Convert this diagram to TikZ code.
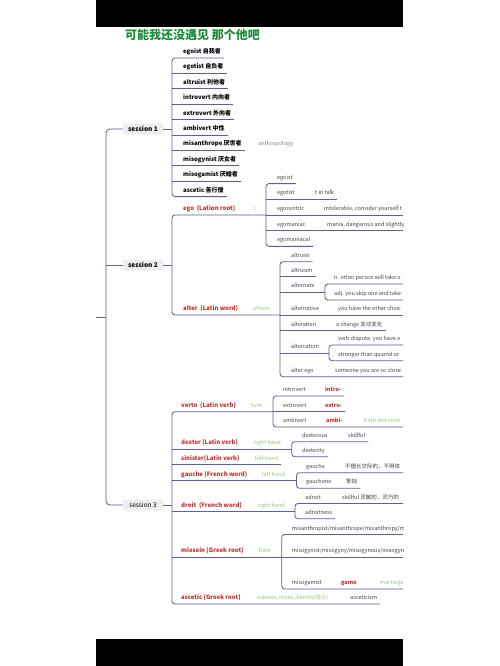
\documentclass[tikz,border=0pt]{standalone}
\usepackage{fontspec}
\setmainfont{Noto Sans CJK SC}
\usetikzlibrary{calc}
\definecolor{cLine}{HTML}{606095}
\definecolor{cRed}{HTML}{B83232}
\definecolor{cGreen}{HTML}{9CC27E}
\definecolor{cTitle}{HTML}{1E8B3A}
\definecolor{cDark}{HTML}{444444}
\definecolor{cBox}{HTML}{EEEEEE}
\newcommand{\TP}[5]{\node[#2] (#1) at (#3,#4-4.5) {#5};}
\newcommand{\ULine}[3]{\draw[ln] (#2,#3) -- ($(#1.east |- 0,#3)+(3,0)$);}
\newcommand{\ULto}[3]{\draw[ln] (#1,#3) -- (#2,#3);}
\newcommand{\BRk}[5]{\draw[ln,rounded corners=3pt] ($(#1.east |- 0,#3)+(3,0)$) -- (#2,#3) -- (#2,#4) -- ($(#5.east |- 0,#4)+(3,0)$);}
\begin{document}
\begin{tikzpicture}[x=1pt,y=-1pt,
 ln/.style={draw=cLine,line width=0.85pt},
 sonet/.style={anchor=base west,inner sep=0,font=\fontsize{6}{7}\selectfont\bfseries,text=black},
 redt/.style={anchor=base west,inner sep=0,font=\fontsize{6}{7}\selectfont\bfseries,text=cRed},
 grayt/.style={anchor=base west,inner sep=0,font=\fontsize{5.5}{6.5}\selectfont,text=cDark},
 greent/.style={anchor=base west,inner sep=0,font=\fontsize{5.5}{6.5}\selectfont,text=cGreen},
 lightt/.style={anchor=base west,inner sep=0,font=\fontsize{5.5}{6.5}\selectfont,text=gray},
 sredt/.style={anchor=base west,inner sep=0,font=\fontsize{5.5}{6.5}\selectfont\bfseries,text=cRed},
 sess/.style={fill=cBox,rounded corners=2pt,minimum width=40pt,minimum height=11pt,inner sep=1pt,font=\fontsize{6.5}{7}\selectfont}]
\fill[white] (0,0) rectangle (500,666);
\begin{scope}
\clip (0,27) rectangle (403,639);
\node[anchor=west,text=cTitle,font=\fontsize{12}{13}\selectfont\bfseries,inner sep=0] (title) at (125,35) {可能我还没遇见 那个他吧};
% sessions
\node[sess,font=\fontsize{6.5}{7}\selectfont\bfseries] (s1) at (143,129) {session 1};
\node[sess,font=\fontsize{6.5}{7}\selectfont\bfseries] (s2) at (143,265) {session 2};
\node[sess] (s3) at (143,505) {session 3};
\draw[ln,rounded corners=4pt] (s1.west) -- (106,129) -- (106,505) -- (s3.west);
\draw[ln] (96,317) -- (106,317);
\draw[ln] (106,265) -- (s2.west);
\draw[ln] (s1.east) -- (172,129);
\draw[ln] (s2.east) -- (172,265);
\draw[ln] (s3.east) -- (172,505);
% session 1 children
\TP{a1}{sonet}{183}{58}{egoist 自我者}
\TP{a2}{sonet}{183}{73.4}{egotist 自负者}
\TP{a3}{sonet}{183}{88.8}{altruist 利他者}
\TP{a4}{sonet}{183}{104.2}{introvert 内向者}
\TP{a5}{sonet}{183}{119.6}{extrovert 外向者}
\TP{a6}{sonet}{183}{135}{ambivert 中性}
\TP{a7}{sonet}{183}{150.4}{misanthrope 厌世者}
\TP{a8}{sonet}{183}{165.8}{misogynist 厌女者}
\TP{a9}{sonet}{183}{181.2}{misogamist 厌婚者}
\TP{a10}{sonet}{183}{196.6}{ascetic 苦行僧}
\TP{anth}{lightt}{258}{150.4}{anthropology}
\BRk{a1}{172}{58}{196.6}{a10}
\ULine{a2}{172}{73.4}
\ULine{a3}{172}{88.8}
\ULine{a4}{172}{104.2}
\ULine{a5}{172}{119.6}
\ULine{a6}{172}{135}
\ULine{a7}{172}{150.4}
\ULine{a8}{172}{165.8}
\ULine{a9}{172}{181.2}
% session 2 children
\TP{b1}{redt}{183}{215}{ego~ (Lation root)}
\TP{b2}{redt}{183}{315}{alter~ (Latin word)}
\TP{bl}{greent}{254}{215}{l}
\TP{bo}{greent}{253}{315}{others}
\draw[ln,rounded corners=3pt] (266,215) -- (172,215) -- (172,315) -- (280,315);
% ego children
\TP{c1}{grayt}{277}{183.6}{egoist}
\TP{c2}{grayt}{277}{199.3}{egotist}
\TP{c3}{grayt}{277}{215}{egocentric}
\TP{c4}{grayt}{277}{230.7}{egomaniac}
\TP{c5}{grayt}{277}{246.4}{egomaniacal}
\TP{c2a}{grayt}{315}{199.3}{t in talk}
\TP{c3a}{grayt}{324}{215}{intolerable, consider yourself t}
\TP{c4a}{grayt}{327}{230.7}{mania, dangerous and slightly}
\BRk{c1}{266}{183.6}{246.4}{c5}
\ULine{c2a}{266}{199.3}
\ULto{266}{403}{215}
\ULto{266}{403}{230.7}
% alter children
\TP{d1}{grayt}{291}{261.7}{altruist}
\TP{d2}{grayt}{291}{276.5}{altruism}
\TP{d3}{grayt}{291}{292}{alternate}
\TP{d4}{grayt}{291}{315}{alternative}
\TP{d5}{grayt}{291}{330.7}{alteration}
\TP{d6}{grayt}{291}{353}{altercation}
\TP{d7}{grayt}{291}{376.7}{alter ego}
\TP{d3a}{grayt}{334}{284}{n. other person will take o}
\TP{d3b}{grayt}{334}{300}{adj. you skip one and take}
\TP{d4a}{grayt}{338}{315}{you have the other choic}
\TP{d5a}{grayt}{336}{330.7}{a change 变动变化}
\TP{d6a}{grayt}{338}{345}{verb dispute, you have o}
\TP{d6b}{grayt}{338}{360.7}{stronger than quarrel or}
\TP{d7a}{grayt}{335}{376.7}{someone you are so close}
\draw[ln,rounded corners=3pt] ($(d1.east |- 0,261.7)+(3,0)$) -- (280,261.7) -- (280,376.7) -- (403,376.7);
\ULine{d2}{280}{276.5}
\ULto{280}{325}{292}
\ULto{280}{403}{315}
\ULine{d5a}{280}{330.7}
\ULto{280}{329}{353}
\draw[ln,rounded corners=3pt] (403,284) -- (325,284) -- (325,300) -- (403,300);
\draw[ln,rounded corners=3pt] (403,345) -- (329,345) -- (329,360.7) -- (403,360.7);
% session 3 children
\TP{e1}{redt}{181}{411.7}{verto~ (Latin verb)}
\TP{e2}{redt}{181}{449.3}{dexter (Latin verb)}
\TP{e3}{redt}{181}{464.7}{sinister(Latin verb)}
\TP{e4}{redt}{181}{480.5}{gauche (French word)}
\TP{e5}{redt}{181}{511.5}{droit~ (French word)}
\TP{e6}{redt}{181}{557.3}{miesein (Greek root)}
\TP{e7}{redt}{181}{604}{ascetic (Greek root)}
\TP{e1n}{greent}{251}{411.7}{turn}
\TP{e2n}{greent}{254}{449.3}{right hand}
\TP{e3n}{greent}{255}{464.7}{left hand}
\TP{e4n}{greent}{262}{480.5}{left hand}
\TP{e5n}{greent}{258}{511.5}{right hand}
\TP{e6n}{greent}{259}{557.3}{hate}
\TP{e7n}{greent}{257}{604}{asketes, mons, hermit(隐士)}
\TP{e7a}{grayt}{350}{604}{asceticism}
\draw[ln,rounded corners=3pt] (273,411.7) -- (172,411.7) -- (172,604) -- ($(e7a.east |- 0,604)+(3,0)$);
\ULto{172}{291.7}{449.3}
\ULine{e3n}{172}{464.7}
\ULto{172}{296.5}{480.5}
\ULto{172}{295}{511.5}
\ULto{172}{281.7}{557.3}
% verto children
\TP{f1}{grayt}{283}{396}{introvert}
\TP{f2}{grayt}{283}{411.7}{extrovert}
\TP{f3}{grayt}{283}{427}{ambivert}
\TP{f1a}{sredt}{325}{396}{intro-}
\TP{f2a}{sredt}{325}{411.7}{extro-}
\TP{f3a}{sredt}{326}{427}{ambi-}
\TP{f3b}{greent}{364}{427}{both direction}
\draw[ln,rounded corners=3pt] ($(f1a.east |- 0,396)+(3,0)$) -- (273,396) -- (273,427) -- (403,427);
\ULine{f2a}{273}{411.7}
% dexter children
\TP{g1}{grayt}{302}{441.7}{dexterous}
\TP{g2}{grayt}{302}{456.7}{dexterity}
\TP{g1a}{grayt}{348}{441.7}{skillful}
\BRk{g1a}{291.7}{441.7}{456.7}{g2}
% gauche children
\TP{h1}{grayt}{306}{472.7}{gauche}
\TP{h2}{grayt}{306}{488.3}{gaucherie}
\TP{h1a}{grayt}{345}{472.7}{不擅长交际的，不得体}
\TP{h2a}{grayt}{346}{488.3}{笨拙}
\draw[ln,rounded corners=3pt] (403,472.7) -- (296.5,472.7) -- (296.5,488.3) -- ($(h2a.east |- 0,488.3)+(3,0)$);
% droit children
\TP{i1}{grayt}{305}{503.5}{adroit}
\TP{i2}{grayt}{305}{518.7}{adroitness}
\TP{i1a}{grayt}{342}{503.5}{skillful 灵敏的，灵巧的}
\draw[ln,rounded corners=3pt] (403,503.5) -- (295,503.5) -- (295,518.7) -- ($(i2.east |- 0,518.7)+(3,0)$);
% miesein children
\TP{j1}{grayt}{291.7}{534.5}{misanthropist/misanthrope/misanthropy/m}
\TP{j2}{grayt}{291.7}{557.3}{misogynist/misogyny/misogynous/misogyn}
\TP{j3}{grayt}{291.7}{589}{misogamist}
\TP{j3a}{sredt}{341}{589}{gamo}
\TP{j3b}{greent}{380}{589}{marriage}
\draw[ln,rounded corners=3pt] (403,534.5) -- (281.7,534.5) -- (281.7,589) -- (403,589);
\ULto{281.7}{403}{557.3}
\end{scope}
\fill[black] (96,0) rectangle (403,27);
\fill[black] (96,639) rectangle (403,666);
\end{tikzpicture}
\end{document}
